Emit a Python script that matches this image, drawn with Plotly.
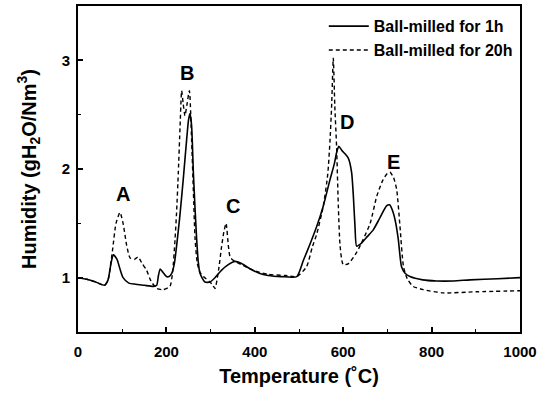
import plotly.graph_objects as go

# Ball-milled for 1h (solid)
t_1h = [0, 20, 40, 60, 68, 75, 80, 88, 95, 102, 115, 130, 150, 170, 178, 182, 186, 192, 200, 206,
        212, 218, 223, 230, 238, 246, 250, 253.4, 257, 261, 265, 268.5, 272, 276, 287, 298.6, 310, 325,
        340, 355, 370, 390, 410, 430, 460, 495, 510, 525, 540, 555, 570, 580, 585, 590, 597, 604,
        611.5, 619, 623, 626.7, 630.5, 642, 655, 668, 683, 698, 705, 713, 719, 724.7, 732, 740, 751,
        780, 811, 850, 887, 950, 1000]
h_1h = [1.00, 0.985, 0.96, 0.93, 0.98, 1.14, 1.21, 1.17, 1.08, 1.00, 0.95, 0.94, 0.93, 0.92, 0.93, 1.02, 1.08, 1.05, 1.01, 1.01,
        1.04, 1.13, 1.29, 1.55, 1.90, 2.28, 2.45, 2.51, 2.40, 1.97, 1.62, 1.35, 1.15, 1.04, 0.96, 0.96, 1.00, 1.07,
        1.12, 1.15, 1.13, 1.08, 1.04, 1.02, 1.01, 1.01, 1.16, 1.31, 1.47, 1.66, 1.90, 2.05, 2.15, 2.21, 2.17, 2.14,
        2.10, 1.97, 1.75, 1.47, 1.29, 1.32, 1.38, 1.44, 1.55, 1.66, 1.67, 1.60, 1.50, 1.35, 1.10, 1.04, 1.01,
        0.98, 0.97, 0.97, 0.98, 0.99, 1.00]

# Ball-milled for 20h (dashed)
t_20h = [0, 20, 40, 60, 68, 78, 86, 95, 102, 110, 118, 128, 136, 145, 155, 165, 178, 193, 208, 214,
         219.5, 223, 227, 231, 234.5, 238, 242, 246, 252, 257, 261, 265, 270, 276, 283.6, 298.6, 305, 310,
         318, 325, 330, 335, 340, 344, 348, 355, 370, 390, 410, 430, 470, 495, 517, 530, 540, 555, 565, 570,
         574, 577.6, 581, 585, 589, 593, 600, 612, 630, 645, 661, 676, 690, 700, 706, 714, 721, 728.5,
         736.5, 745, 758, 781, 826, 900, 1000]
h_20h = [1.00, 0.985, 0.96, 0.93, 0.98, 1.25, 1.50, 1.60, 1.50, 1.30, 1.18, 1.17, 1.19, 1.13, 1.07, 0.97, 0.90, 0.89, 0.92, 1.05,
         1.35, 1.60, 1.97, 2.40, 2.72, 2.60, 2.49, 2.58, 2.72, 2.27, 1.80, 1.35, 1.13, 1.05, 1.01, 0.96, 0.93, 0.90,
         1.07, 1.29, 1.42, 1.50, 1.30, 1.19, 1.17, 1.15, 1.12, 1.08, 1.05, 1.03, 1.02, 1.01, 1.10, 1.28, 1.40, 1.66, 1.95, 2.25,
         2.60, 3.02, 2.58, 2.21, 1.66, 1.29, 1.12, 1.13, 1.23, 1.35, 1.50, 1.75, 1.90, 1.96, 1.97, 1.92, 1.81, 1.47,
         1.10, 0.99, 0.92, 0.89, 0.86, 0.87, 0.88]

series_names = ["Ball-milled for 1h", "Ball-milled for 20h"]

peak_labels = ["A", "B", "C", "D", "E"]
peak_label_t = [102, 246, 351, 608, 713]
peak_label_h = [1.77, 2.88, 1.66, 2.43, 2.06]

x_ticks = [0, 200, 400, 600, 800, 1000]
y_ticks = [1, 2, 3]

FONT = "Liberation Sans, Arial, sans-serif"

fig = go.Figure()
fig.add_trace(go.Scatter(x=t_1h, y=h_1h, mode="lines", name=series_names[0],
                         line=dict(color="black", width=1.6, shape="spline", smoothing=0.6)))
fig.add_trace(go.Scatter(x=t_20h, y=h_20h, mode="lines", name=series_names[1],
                         line=dict(color="black", width=1.4, dash="4px,3px", shape="spline", smoothing=0.6)))

for lab, tx, hy in zip(peak_labels, peak_label_t, peak_label_h):
    fig.add_annotation(x=tx, y=hy, text="<b>%s</b>" % lab, showarrow=False,
                       font=dict(family=FONT, size=20, color="black"))

fig.update_layout(
    width=550, height=396,
    margin=dict(l=78, r=30, t=6, b=64),
    paper_bgcolor="white", plot_bgcolor="white",
    font=dict(family=FONT, color="black"),
    showlegend=True,
    legend=dict(x=0.995, y=0.99, xanchor="right", yanchor="top",
                bgcolor="rgba(0,0,0,0)", borderwidth=0,
                font=dict(family=FONT, size=16, color="black", weight="bold"),
                tracegroupgap=0, itemwidth=40),
    xaxis=dict(range=[0, 1000], tickvals=x_ticks, ticktext=["<b>%d</b>" % v for v in x_ticks],
               ticks="inside", ticklen=5, tickwidth=1.5, tickcolor="black",
               minor=dict(ticks="inside", ticklen=3, dtick=100, tickcolor="black", tickwidth=1),
               showline=True, linecolor="black", linewidth=2, mirror=True,
               showgrid=False, zeroline=False, automargin=False, ticklabelstandoff=5,
               tickfont=dict(family=FONT, size=15, color="black"),
               title=dict(text="<b>Temperature (˚C)</b>", font=dict(family=FONT, size=20, color="black"),
                          standoff=10)),
    yaxis=dict(range=[0.5, 3.5], tickvals=y_ticks, ticktext=["<b>%d</b>" % v for v in y_ticks],
               ticks="inside", ticklen=5, tickwidth=1.5, tickcolor="black",
               minor=dict(ticks="inside", ticklen=3, dtick=0.5, tickcolor="black", tickwidth=1),
               showline=True, linecolor="black", linewidth=2, mirror=True,
               showgrid=False, zeroline=False, automargin=False, ticklabelstandoff=3,
               tickfont=dict(family=FONT, size=15, color="black"),
               title=dict(text="<b>Humidity (gH<sub>2</sub>O/Nm<sup>3</sup>)</b>",
                          font=dict(family=FONT, size=20, color="black"), standoff=20)),
)

fig.write_html("out.html", config={"displayModeBar": False},
               post_script="document.body.style.margin='0';")
